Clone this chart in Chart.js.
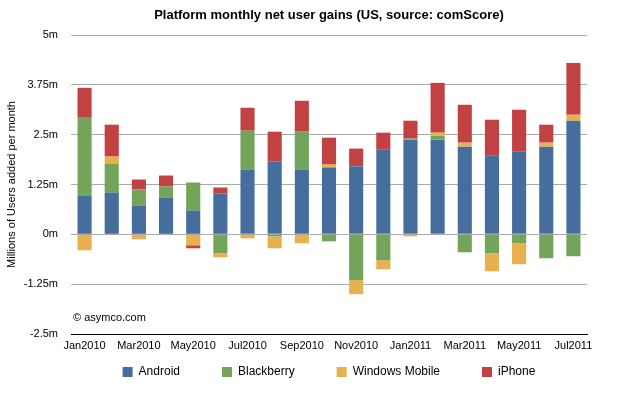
<!DOCTYPE html>
<html>
<head>
<meta charset="utf-8">
<script src="https://cdn.jsdelivr.net/npm/chart.js@4/dist/chart.umd.min.js"></script>
<style>
  html, body { margin: 0; padding: 0; background: #fff; }
  #wrap { width: 621px; height: 398px; }
</style>
</head>
<body>
<div id="wrap"><canvas id="c" width="621" height="398"></canvas></div>
<script>
const months = ['Jan2010','Feb2010','Mar2010','Apr2010','May2010','Jun2010','Jul2010','Aug2010','Sep2010','Oct2010','Nov2010','Dec2010','Jan2011','Feb2011','Mar2011','Apr2011','May2011','Jun2011','Jul2011'];
const android    = [0.975, 1.05, 0.725, 0.925, 0.6, 1.025, 1.625, 1.825, 1.625, 1.675, 1.71, 2.125, 2.375, 2.375, 2.2, 1.975, 2.075, 2.2, 2.85];
const blackberry = [1.95, 0.725, 0.4, 0.275, 0.7, -0.475, 0.975, -0.05, 0.95, -0.175, -1.15, -0.65, 0.025, 0.1, -0.45, -0.475, -0.225, -0.6, -0.55];
const windowsMobile = [-0.4, 0.175, -0.125, 0, -0.275, -0.1, -0.1, -0.3, -0.225, 0.075, -0.35, -0.225, -0.05, 0.075, 0.1, -0.45, -0.525, 0.1, 0.15];
const iphone     = [0.75, 0.8, 0.25, 0.275, -0.075, 0.15, 0.575, 0.75, 0.775, 0.675, 0.44, 0.425, 0.45, 1.25, 0.95, 0.9, 1.05, 0.45, 1.3];
const seriesNames = ['Android', 'Blackberry', 'Windows Mobile', 'iPhone'];
const yTickMin = -2.5, yTickMax = 5, yTickStep = 1.25;
const titleText = 'Platform monthly net user gains (US, source: comScore)';
const yTitleText = 'Millions of Users added per month';
const creditText = '\u00A9 asymco.com';

Chart.defaults.font.family = '"Liberation Sans", Arial, Helvetica, sans-serif';
Chart.defaults.color = '#000';

const legendShift = {
  id: 'legendShift',
  beforeLayout(chart) {
    const l = chart.legend;
    if (!l || l._patched) return;
    const origFit = l.fit;
    l.fit = function() { origFit.call(this); this.height = 30; };
    l._patched = true;
  },
  afterLayout(chart) {
    const l = chart.legend;
    if (!l) return;
    l.top = 324;
    l.bottom = 398;
    l.height = 74;
  }
};
const credit = {
  id: 'credit',
  afterDatasetsDraw(chart) {
    const ctx = chart.ctx;
    ctx.save();
    ctx.font = '11px "Liberation Sans", Arial, sans-serif';
    ctx.fillStyle = '#000';
    ctx.textAlign = 'left';
    ctx.textBaseline = 'middle';
    ctx.fillText(creditText, chart.chartArea.left + 2, 318);
    ctx.restore();
  }
};

new Chart(document.getElementById('c'), {
  type: 'bar',
  data: {
    labels: months,
    datasets: [
      { label: seriesNames[0], data: android, backgroundColor: '#456e9c' },
      { label: seriesNames[1], data: blackberry, backgroundColor: '#72a55a' },
      { label: seriesNames[2], data: windowsMobile, backgroundColor: '#e8b04f' },
      { label: seriesNames[3], data: iphone, backgroundColor: '#c24142' }
    ]
  },
  options: {
    responsive: false,
    animation: false,
    layout: { padding: { left: 0, right: 34, top: 0, bottom: 10 } },
    datasets: { bar: { barPercentage: 0.52, categoryPercentage: 1.0, borderWidth: 0 } },
    plugins: {
      title: {
        display: true, text: titleText, fullSize: false,
        font: { size: 13, weight: 'bold' }, color: '#000',
        padding: { top: 8, bottom: 11.4 }
      },
      legend: {
        position: 'bottom', fullSize: false,
        labels: { boxWidth: 10, boxHeight: 10, padding: 42, font: { size: 12 }, color: '#000' }
      },
      tooltip: { enabled: false }
    },
    scales: {
      x: {
        stacked: true,
        grid: { display: false, drawTicks: false },
        border: { display: true, color: '#000', width: 1 },
        ticks: {
          autoSkip: false, maxRotation: 0, minRotation: 0, padding: 5,
          font: { size: 11 }, color: '#000',
          callback: function(v, i) { return i % 2 === 0 ? months[i] : ''; }
        },
        afterFit(scale) { scale.height = 24; }
      },
      y: {
        stacked: true,
        min: yTickMin, max: yTickMax,
        grid: { color: '#aaaaaa', lineWidth: 1, drawTicks: false },
        border: { display: false },
        ticks: {
          stepSize: yTickStep, padding: 13, font: { size: 11 }, color: '#000',
          callback: function(v) { return v + 'm'; }
        },
        title: { display: true, text: yTitleText, font: { size: 11 }, color: '#000', padding: { top: 5, bottom: 0 } },
        afterFit(scale) { scale.width = 71; }
      }
    }
  },
  plugins: [legendShift, credit]
});
</script>
</body>
</html>
